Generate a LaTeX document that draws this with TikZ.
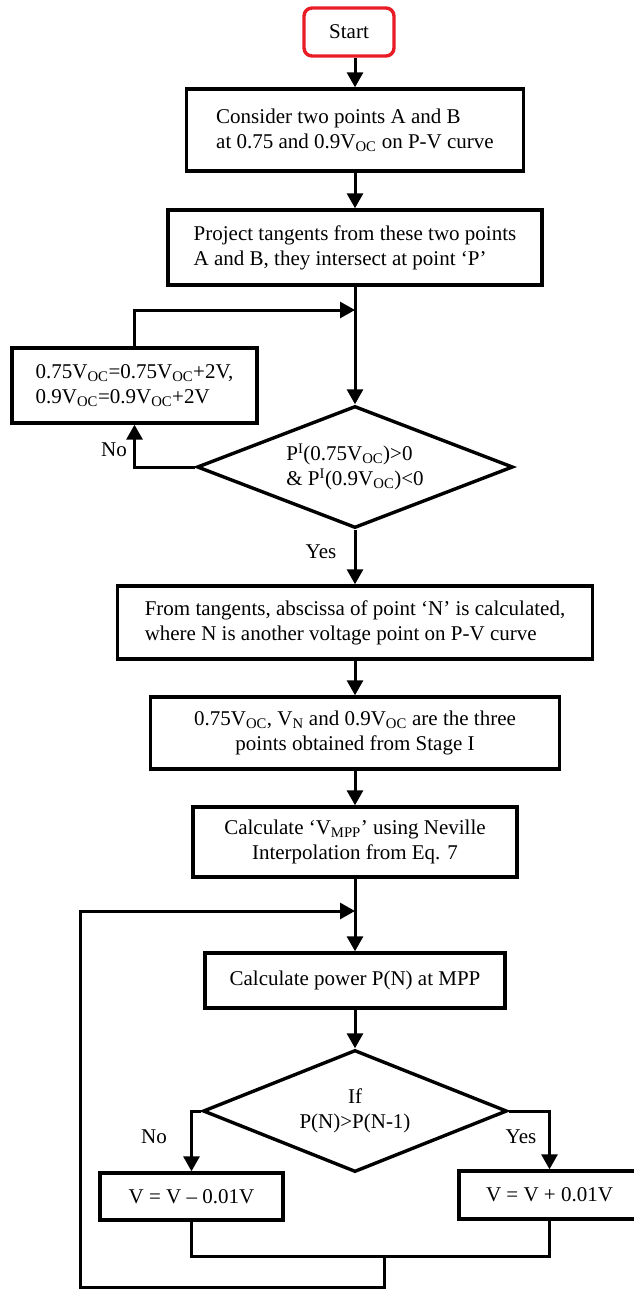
\documentclass[tikz,border=0pt]{standalone}
\usepackage{fontspec}
\setmainfont{Liberation Serif}
\usetikzlibrary{shapes.geometric,arrows.meta}
\definecolor{startred}{RGB}{232,28,36}
\begin{document}
\begin{tikzpicture}[x=1pt, y=-1pt,
  every node/.style={font=\fontsize{21}{25}\selectfont},
  procbox/.style={draw, line width=3.4pt, align=left, inner sep=0pt},
  testbox/.style={draw, diamond, line width=3.4pt, align=center, inner sep=0pt},
  flow/.style={line width=3pt, -{Triangle[width=16pt,length=15pt]}},
  link/.style={line width=3pt}]
\useasboundingbox (0,0) rectangle (633,1289);
% Stage I
\node[draw=startred, line width=3.4pt, rounded corners=8pt, minimum width=90pt, minimum height=48pt] (start) at (349,32) {Start};
\node[procbox, minimum width=337pt, minimum height=82pt] (pts) at (355,130) {Consider two points A and B\\at 0.75 and 0.9V\textsubscript{OC} on P-V curve};
\node[procbox, minimum width=374pt, minimum height=75pt] (tang) at (355,247.5) {Project tangents from these two points\\A and B, they intersect at point `P'};
\node[procbox, minimum width=245pt, minimum height=75pt] (upd) at (134.5,385.5) {0.75V\textsubscript{OC}=0.75V\textsubscript{OC}+2V,\\0.9V\textsubscript{OC}=0.9V\textsubscript{OC}+2V};
\node[testbox, align=left, aspect=2.59, minimum width=316pt, minimum height=122pt] (chk) at (355,467) {P\textsuperscript{I}(0.75V\textsubscript{OC})>0\\\& P\textsuperscript{I}(0.9V\textsubscript{OC})<0};
\node[procbox, minimum width=475pt, minimum height=73pt] (absc) at (355,622.5) {From tangents, abscissa of point `N' is calculated,\\where N is another voltage point on P-V curve};
\node[procbox, align=center, minimum width=409pt, minimum height=72pt] (three) at (355,733) {0.75V\textsubscript{OC}, V\textsubscript{N} and 0.9V\textsubscript{OC} are the three\\points obtained from Stage I};
% Stage II
\node[procbox, align=center, minimum width=324pt, minimum height=70pt] (vmpp) at (355,842) {Calculate `V\textsubscript{MPP}' using Neville\\Interpolation from Eq. 7};
\node[procbox, minimum width=300pt, minimum height=55pt] (pwr) at (355,980.5) {Calculate power P(N) at MPP};
\node[testbox, aspect=2.49, minimum width=304pt, minimum height=122pt] (cmp) at (355,1111) {If\\P(N)>P(N-1)};
\node[procbox, minimum width=183pt, minimum height=47pt] (dec) at (191.5,1196.5) {V = V -- 0.01V};
\node[procbox, minimum width=181pt, minimum height=48pt] (inc) at (549.5,1195) {V = V + 0.01V};
\coordinate (join1) at (355,310);
\coordinate (join2) at (355,911);
\coordinate (merge) at (384,1256);
\coordinate (ret) at (80,1287);
% Connectors
\draw[flow] (start.south -| pts.north) -- (pts.north);
\draw[flow] (pts) -- (tang);
\draw[flow] (tang) -- (chk);
\draw[flow] (upd.north) |- (join1);
\draw[flow] (chk.west) -| (upd.south);
\draw[flow] (chk) -- (absc);
\draw[flow] (absc) -- (three);
\draw[flow] (three) -- (vmpp);
\draw[flow] (vmpp) -- (pwr);
\draw[flow] (pwr) -- (cmp);
\draw[flow] (cmp.west) -| (dec.north);
\draw[flow] (cmp.east) -| (inc.north);
\draw[link] (dec.south) |- (merge) -| (inc.south);
\draw[flow] (merge) |- (ret) |- (join2);
% Branch labels
\node at (114,450) {No};
\node at (321,552) {Yes};
\node at (154,1137) {No};
\node at (521,1137) {Yes};
\end{tikzpicture}
\end{document}
